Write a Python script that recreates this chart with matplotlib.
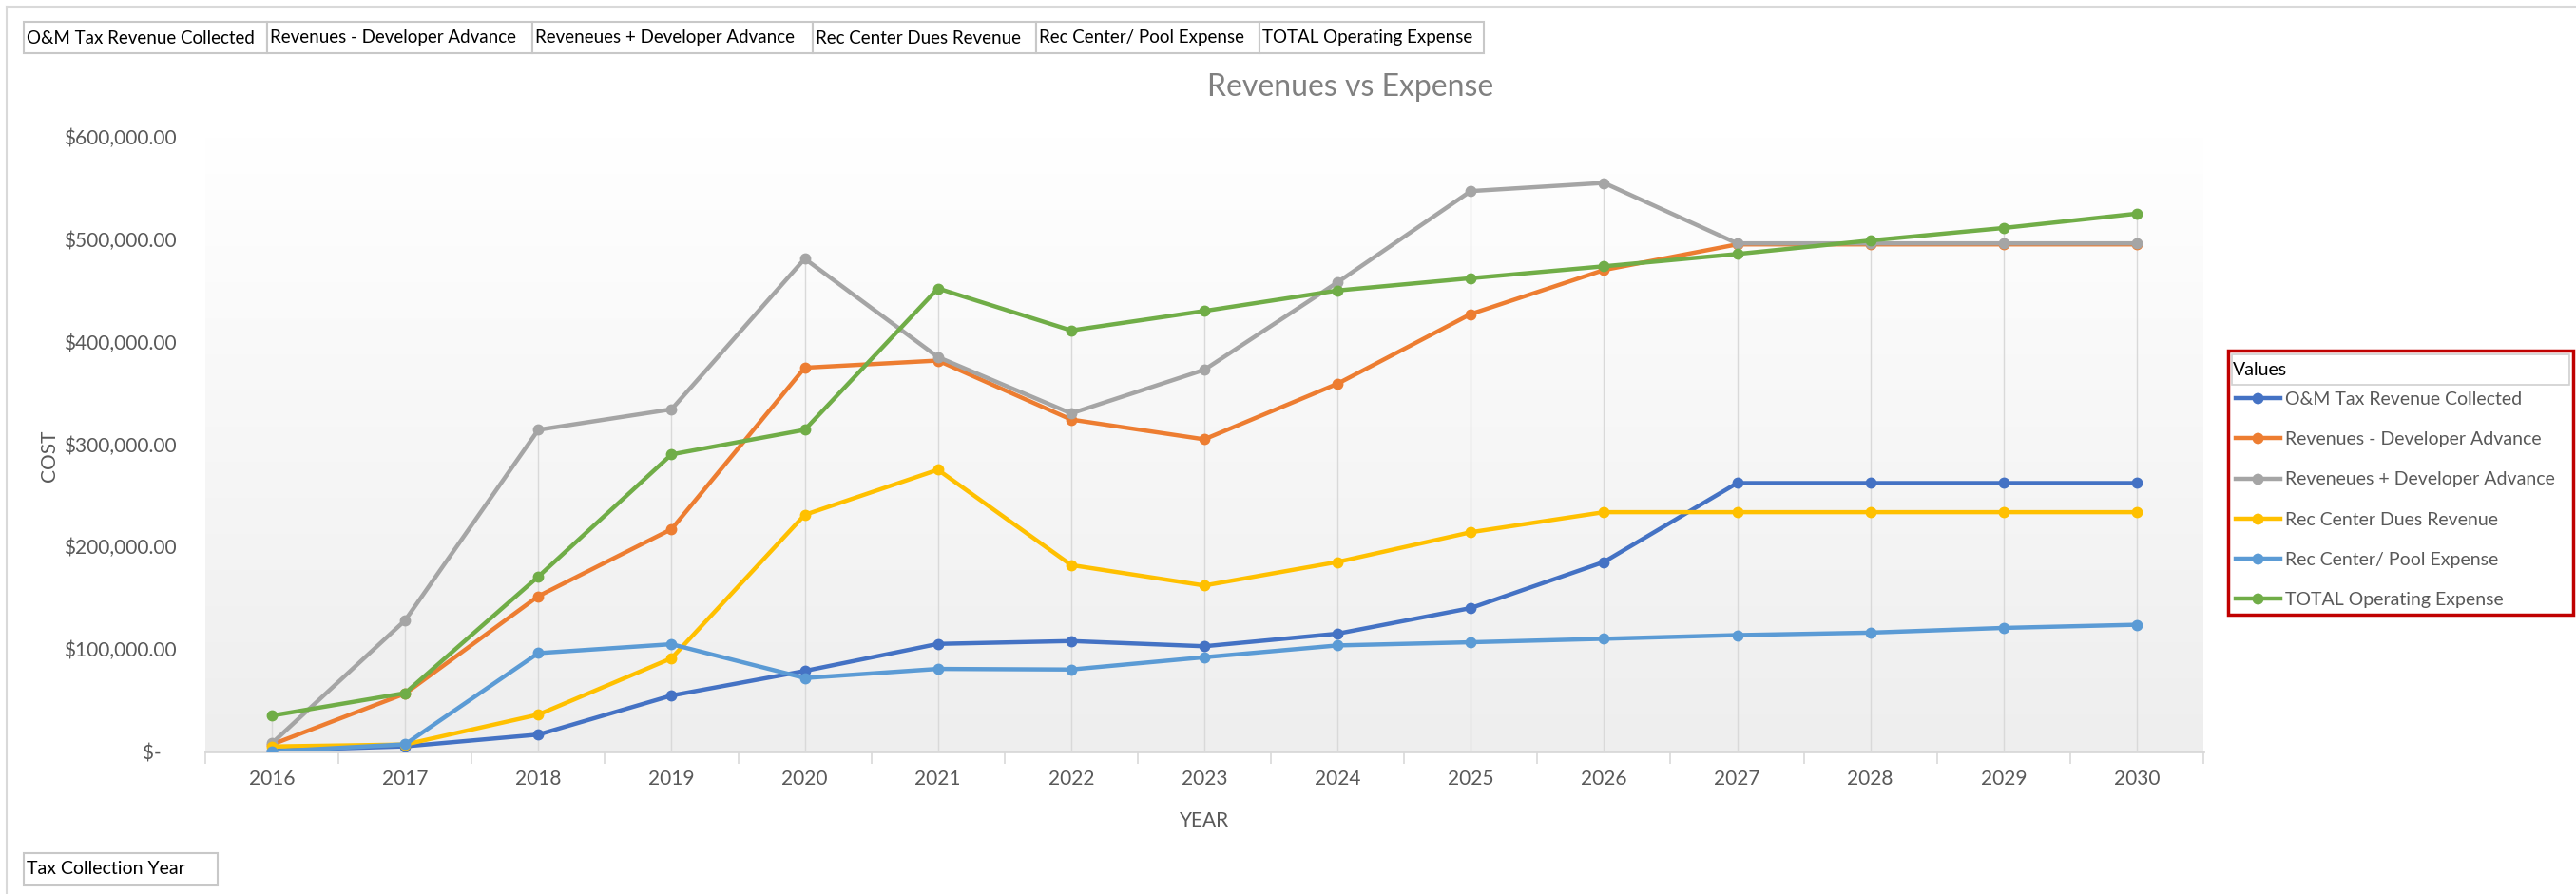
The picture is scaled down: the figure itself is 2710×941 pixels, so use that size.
import numpy as np
import matplotlib
matplotlib.use("Agg")
import matplotlib.pyplot as plt
from matplotlib.colors import LinearSegmentedColormap
from matplotlib.patches import Rectangle
from matplotlib.lines import Line2D
from matplotlib.ticker import FuncFormatter

plt.rcParams['font.family'] = ['Lato', 'DejaVu Sans']

# Данные графика
years = [2016, 2017, 2018, 2019, 2020, 2021, 2022, 2023,
         2024, 2025, 2026, 2027, 2028, 2029, 2030]

om_tax = [1000, 5000, 16500, 54600, 78600, 105000, 107800, 102700,
          115000, 140000, 185000, 262000, 262000, 262000, 262000]
rev_minus_dev = [6800, 56500, 151600, 217000, 374600, 381600, 324000, 304700,
                 359000, 427000, 470000, 495000, 495000, 495000, 495000]
rev_plus_dev = [8000, 128000, 314000, 334000, 481000, 385000, 330000, 372600,
                458000, 547000, 555000, 496000, 496000, 496000, 496000]
rec_dues = [4900, 6800, 36000, 91000, 231000, 275000, 182000, 162000,
            185000, 214000, 233600, 233600, 233600, 233600, 233600]
rec_pool = [0, 7000, 96000, 104700, 71700, 80600, 80000, 92000,
            103500, 106600, 110000, 113600, 116000, 120600, 123700]
total_opex = [35000, 57000, 170700, 290000, 314000, 452000, 411000, 430000,
              450000, 462000, 473600, 485600, 498800, 511000, 525000]

series_names = ["O&M Tax Revenue Collected", "Revenues - Developer Advance",
                "Reveneues + Developer Advance", "Rec Center Dues Revenue",
                "Rec Center/ Pool Expense", "TOTAL Operating Expense"]
series_values = [om_tax, rev_minus_dev, rev_plus_dev, rec_dues, rec_pool, total_opex]
colors = ["#4472C4", "#ED7D31", "#A5A5A5", "#FFC000", "#5B9BD5", "#70AD47"]

W, H = 2710, 941


def fx(px):
    return px / W


def fy(py):
    return 1 - py / H


fig = plt.figure(figsize=(W / 100, H / 100), dpi=100)
fig.patch.set_facecolor("white")

# Граница области диаграммы
fig.add_artist(Line2D([fx(7), 1], [fy(7), fy(7)], color="#d9d9d9", lw=1.5))
fig.add_artist(Line2D([fx(7), fx(7)], [fy(7), 0], color="#d9d9d9", lw=1.5))

ax = fig.add_axes([fx(216), fy(791), fx(2318) - fx(216), fy(144) - fy(791)])
x = np.arange(len(years))

# Градиентный фон
cmap = LinearSegmentedColormap.from_list("bg", ["#eeeeee", "#ffffff"])
grad = np.linspace(0, 1, 256)[:, None]
ax.imshow(grad, extent=[-0.5, len(years) - 0.5, 0, 600000], origin="lower",
          aspect="auto", cmap=cmap, zorder=0)

# Линии проекции
tops = np.max(np.array(series_values), axis=0)
ax.vlines(x, 0, tops, color="#d9d9d9", lw=1, zorder=1)

handles = []
for name, vals, c in zip(series_names, series_values, colors):
    h, = ax.plot(x, vals, "-o", color=c, lw=3.2, markersize=7.5, label=name, zorder=3)
    handles.append(h)

ax.set_xlim(-0.5, len(years) - 0.5)
ax.set_ylim(0, 600000)
ax.set_yticks(np.arange(0, 600001, 100000))
ax.yaxis.set_major_formatter(FuncFormatter(lambda v, p: "$-   " if v == 0 else f"${v:,.2f}"))
ax.set_xticks(x)
ax.set_xticklabels([str(y) for y in years])
ax.set_xticks(np.arange(-0.5, len(years)), minor=True)
ax.tick_params(axis="x", which="major", length=0, pad=14, labelsize=15, labelcolor="#595959")
ax.tick_params(axis="x", which="minor", length=9, width=1.2, color="#d9d9d9")
ax.tick_params(axis="y", length=0, pad=22, labelsize=15, labelcolor="#595959")
for s in ["left", "right", "top"]:
    ax.spines[s].set_visible(False)
ax.spines["bottom"].set_color("#d9d9d9")
ax.spines["bottom"].set_linewidth(2)

ax.set_xlabel("YEAR", fontsize=15, color="#595959")
ax.xaxis.set_label_coords(0.5, (791 - 854) / (791 - 144))
fig.text(fx(52), fy(480), "COST", rotation=90, fontsize=15, color="#595959",
         ha="center", va="center")
fig.text(fx(1421), fy(92), "Revenues vs Expense", fontsize=23, color="#808080",
         ha="center", va="center")

# Кнопки полей сверху
edges = [25, 281, 560, 855, 1090, 1325, 1561]
for i, name in enumerate(series_names):
    x0, x1 = edges[i], edges[i + 1]
    fig.add_artist(Rectangle((fx(x0), fy(56)), fx(x1) - fx(x0), fy(23) - fy(56),
                             facecolor="white", edgecolor="#c8c8c8", lw=1.5))
    fig.text(fx(x0 + 3), fy(40), name, fontsize=13.5, color="black", ha="left", va="center")

# Кнопка снизу
fig.add_artist(Rectangle((fx(25), fy(932)), fx(229) - fx(25), fy(898) - fy(932),
                         facecolor="white", edgecolor="#c8c8c8", lw=1.5))
fig.text(fx(28), fy(915), "Tax Collection Year", fontsize=14, color="black",
         ha="left", va="center")

# Легенда
fig.add_artist(Rectangle((fx(2344), fy(647)), fx(2707) - fx(2344), fy(369) - fy(647),
                         facecolor="white", edgecolor="#c00000", lw=2.5, zorder=5))
fig.add_artist(Rectangle((fx(2348), fy(405)), fx(2703) - fx(2348), fy(373) - fy(405),
                         facecolor="white", edgecolor="#d0d0d0", lw=1.2, zorder=6))
fig.text(fx(2349), fy(390), "Values", fontsize=14, color="black", ha="left",
         va="center", zorder=7)
leg = fig.legend(handles=handles, loc="upper left", bbox_to_anchor=(fx(2346), fy(406)),
                 frameon=False, fontsize=14, labelcolor="#595959", handlelength=2.4,
                 handletextpad=0.3, labelspacing=1.3, borderaxespad=0, borderpad=0.3)
leg.set_zorder(8)

fig.savefig("out.png", dpi=100)
